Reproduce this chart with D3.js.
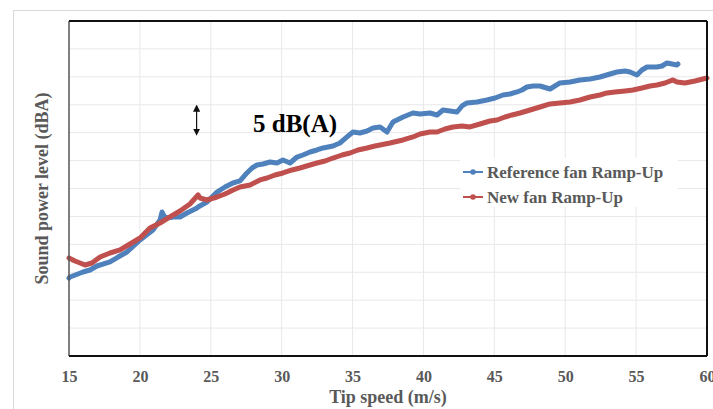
<!DOCTYPE html>
<html>
<head>
<meta charset="utf-8">
<script src="https://cdn.jsdelivr.net/npm/d3@7"></script>
<style>
  body { margin: 0; background: #fff; }
  text { font-family: "Liberation Serif", "Times New Roman", serif; font-weight: bold; }
</style>
</head>
<body>
<div id="chart"></div>
<script>
// tip speed (m/s) and sound power level for the two fans
const refSpeed = [15.00, 15.07, 15.99, 16.48, 16.97, 17.89, 18.46, 19.09, 20.01, 20.92, 21.42, 21.56, 21.70, 21.91, 22.34, 22.83,
  23.32, 24.03, 24.10, 24.73, 25.44, 26.00, 26.56, 27.06, 27.55, 27.91, 28.26, 28.68, 29.18, 29.67, 30.09, 30.59, 31.08,
  31.50, 32.00, 32.49, 32.92, 33.62, 34.11, 34.61, 35.03, 35.52, 36.02, 36.44, 36.94, 37.43, 37.85, 38.56, 39.26, 39.76,
  40.46, 40.96, 41.38, 41.87, 42.37, 42.72, 43.07, 43.78, 44.48, 45.05, 45.61, 46.10, 46.60, 46.95, 47.30, 47.73, 48.22,
  48.93, 49.63, 50.34, 51.04, 51.75, 52.45, 53.16, 53.65, 54.22, 54.57, 55.06, 55.41, 55.77, 56.47, 56.83, 57.18, 57.53,
  57.88, 57.95];
const refLevel = [13.97, 14.15, 15.05, 15.40, 16.12, 16.84, 17.73, 18.63, 20.78, 22.57, 24.36, 25.79, 25.08, 24.72, 24.90, 24.90,
  25.61, 26.51, 26.69, 27.58, 29.37, 30.27, 30.99, 31.35, 32.78, 33.67, 34.21, 34.39, 34.75, 34.57, 35.11, 34.57, 35.64,
  36.00, 36.54, 36.90, 37.26, 37.61, 38.15, 39.23, 40.12, 39.94, 40.30, 40.84, 41.02, 40.12, 41.91, 42.81, 43.52, 43.35,
  43.52, 43.17, 44.06, 43.88, 43.70, 44.78, 45.32, 45.50, 45.85, 46.21, 46.75, 46.93, 47.29, 47.64, 48.18, 48.36, 48.36,
  47.82, 48.90, 49.08, 49.44, 49.62, 49.97, 50.51, 50.87, 51.05, 50.87, 50.33, 51.23, 51.76, 51.76, 51.94, 52.48, 52.30,
  52.12, 52.30];

const newSpeed = [15.00, 15.42, 15.78, 16.13, 16.62, 17.19, 17.89, 18.60, 19.30, 20.01, 20.71, 21.42, 22.12, 22.83, 23.53, 24.10,
  24.24, 24.73, 25.44, 26.00, 26.57, 27.06, 27.77, 28.47, 28.97, 29.53, 30.09, 30.73, 31.29, 32.00, 32.49, 33.06, 33.62,
  34.26, 34.82, 35.38, 36.02, 36.58, 36.94, 37.64, 38.56, 39.26, 39.76, 40.46, 40.96, 41.52, 42.08, 42.72, 43.28, 43.99,
  44.69, 45.19, 45.75, 46.25, 46.81, 47.52, 48.22, 48.93, 49.63, 50.34, 51.04, 51.75, 52.45, 52.95, 53.51, 54.22, 54.78,
  55.41, 55.98, 56.47, 57.04, 57.60, 57.88, 58.45, 59.15, 60.00];
const newLevel = [17.55, 17.02, 16.66, 16.30, 16.66, 17.73, 18.45, 18.99, 20.06, 21.14, 22.93, 23.82, 24.90, 25.97, 27.22, 28.84,
  28.30, 27.94, 28.48, 29.02, 29.73, 30.27, 30.63, 31.53, 31.88, 32.42, 32.78, 33.32, 33.67, 34.21, 34.57, 34.93, 35.46,
  36.00, 36.36, 36.90, 37.26, 37.61, 37.79, 38.15, 38.69, 39.23, 39.76, 40.12, 40.12, 40.66, 41.02, 41.20, 41.02, 41.55,
  42.09, 42.27, 42.81, 43.17, 43.52, 44.06, 44.60, 45.14, 45.32, 45.50, 45.85, 46.39, 46.75, 47.11, 47.29, 47.47, 47.64,
  48.00, 48.36, 48.54, 48.90, 49.44, 49.08, 48.90, 49.26, 49.79];

const xTicks = [15, 20, 25, 30, 35, 40, 45, 50, 55, 60];
const yGrid = [0, 5, 10, 15, 20, 25, 30, 35, 40, 45, 50, 55, 60];

const seriesNames = ["Reference fan Ramp-Up", "New fan Ramp-Up"];
const seriesColors = ["#4f81bd", "#c0504d"];

const width = 713, height = 409;
const margin = { top: 21, right: 6, bottom: 53, left: 69 };

const svg = d3.select("#chart").append("svg")
  .attr("width", width)
  .attr("height", height);

// outer chart frame
svg.append("rect")
  .attr("x", 13.5).attr("y", 10.5)
  .attr("width", width).attr("height", height)
  .attr("fill", "none")
  .attr("stroke", "#d9d9d9");

const x = d3.scaleLinear().domain([15, 60]).range([margin.left, width - margin.right]);
const y = d3.scaleLinear().domain([0, 60]).range([height - margin.bottom, margin.top]);

// grid lines
svg.append("g")
  .selectAll("line.vg")
  .data(xTicks.slice(1, -1))
  .enter().append("line")
  .attr("x1", d => x(d)).attr("x2", d => x(d))
  .attr("y1", y(0)).attr("y2", y(60))
  .attr("stroke", "#e8e8e8");

svg.append("g")
  .selectAll("line.hg")
  .data(yGrid.slice(1, -1))
  .enter().append("line")
  .attr("x1", x(15)).attr("x2", x(60))
  .attr("y1", d => y(d)).attr("y2", d => y(d))
  .attr("stroke", "#e8e8e8");

// x axis labels (the last one is clipped by the page edge, as in the original)
const xAxis = svg.append("g")
  .attr("transform", `translate(0,${y(0)})`)
  .call(d3.axisBottom(x).tickValues(xTicks).tickSize(0).tickFormat(d3.format("d")));
xAxis.select(".domain").remove();
xAxis.selectAll("text")
  .attr("y", 26).attr("dy", 0)
  .attr("fill", "#595959")
  .style("font-family", "'Liberation Serif', serif")
  .style("font-weight", "bold")
  .style("font-size", "16px");

// lines
const line = d3.line()
  .x(d => x(d[0]))
  .y(d => y(d[1]));

const refData = d3.zip(refSpeed, refLevel);
const newData = d3.zip(newSpeed, newLevel);

[refData, newData].forEach((data, i) => {
  svg.append("path")
    .datum(data)
    .attr("fill", "none")
    .attr("stroke", seriesColors[i])
    .attr("stroke-width", 5)
    .attr("stroke-linejoin", "round")
    .attr("stroke-linecap", "round")
    .attr("d", line);
});

// plot frame
svg.append("line")
  .attr("x1", x(15)).attr("x2", x(15)).attr("y1", y(60)).attr("y2", y(0))
  .attr("stroke", "#555").attr("stroke-width", 1.5);
svg.append("line")
  .attr("x1", x(60)).attr("x2", x(60)).attr("y1", y(60)).attr("y2", y(0))
  .attr("stroke", "#111").attr("stroke-width", 2);
svg.append("line")
  .attr("x1", x(15)).attr("x2", x(60)).attr("y1", y(60)).attr("y2", y(60))
  .attr("stroke", "#111").attr("stroke-width", 2);
svg.append("line")
  .attr("x1", x(15)).attr("x2", x(60)).attr("y1", y(0)).attr("y2", y(0))
  .attr("stroke", "#111").attr("stroke-width", 2);

// axis titles
svg.append("text")
  .attr("x", (x(15) + x(60)) / 2).attr("y", 403)
  .attr("text-anchor", "middle")
  .attr("fill", "#595959")
  .style("font-size", "18px")
  .text("Tip speed (m/s)");

svg.append("text")
  .attr("transform", `translate(48,${(y(0) + y(60)) / 2}) rotate(-90)`)
  .attr("text-anchor", "middle")
  .attr("fill", "#595959")
  .style("font-size", "18px")
  .text("Sound power level (dBA)");

// 5 dB(A) annotation
svg.append("defs").selectAll("marker")
  .data(["head"])
  .enter().append("marker")
  .attr("id", "head")
  .attr("viewBox", "0 0 10 10")
  .attr("refX", 5).attr("refY", 5)
  .attr("markerWidth", 6).attr("markerHeight", 6)
  .attr("orient", "auto-start-reverse")
  .append("path")
  .attr("d", "M0,0 L10,5 L0,10 z")
  .attr("fill", "#111");

svg.append("line")
  .attr("x1", x(24)).attr("x2", x(24))
  .attr("y1", y(40.1)).attr("y2", y(44.4))
  .attr("stroke", "#111").attr("stroke-width", 1.2)
  .attr("marker-start", "url(#head)")
  .attr("marker-end", "url(#head)");

svg.append("text")
  .attr("x", 253).attr("y", 132)
  .attr("fill", "#000")
  .style("font-size", "25px")
  .text("5 dB(A)");

// legend
const legend = svg.append("g").attr("transform", "translate(460,158)");
legend.append("rect")
  .attr("width", 218).attr("height", 49)
  .attr("fill", "#fff");
seriesNames.forEach((name, i) => {
  const g = legend.append("g").attr("transform", `translate(0,${14 + i * 25})`);
  g.append("line")
    .attr("x1", 3).attr("x2", 23)
    .attr("stroke", seriesColors[i]).attr("stroke-width", 2);
  g.append("circle")
    .attr("cx", 13).attr("r", 2.8)
    .attr("fill", seriesColors[i]);
  g.append("text")
    .attr("x", 27).attr("y", 6)
    .attr("fill", "#595959")
    .style("font-size", "17px")
    .text(name);
});
</script>
</body>
</html>
